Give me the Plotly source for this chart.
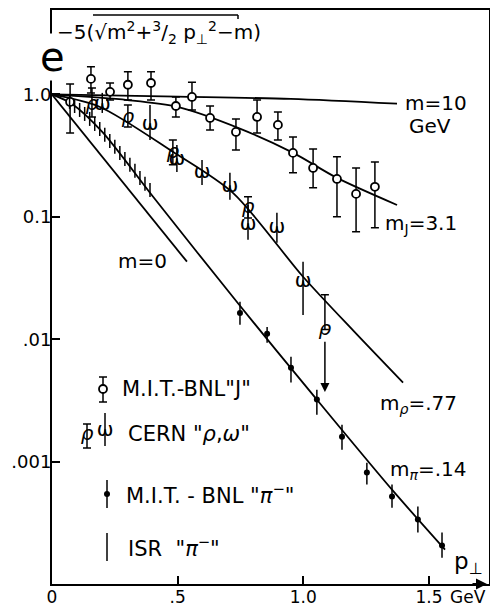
import math
import plotly.graph_objects as go

# ---------------- data ----------------
# M.I.T.-BNL "J"  (open circles)
j_p   = [0.072, 0.155, 0.231, 0.302, 0.394, 0.493, 0.557, 0.629, 0.732, 0.816, 0.899, 0.959, 1.039, 1.134, 1.210, 1.285]
j_val = [0.868, 1.34, 1.05, 1.20, 1.24, 0.805, 0.954, 0.643, 0.494, 0.655, 0.564, 0.333, 0.251, 0.204, 0.154, 0.176]
j_hi  = [1.22, 1.68, 1.24, 1.53, 1.53, 0.954, 1.26, 0.805, 0.631, 0.902, 0.720, 0.450, 0.359, 0.309, 0.251, 0.281]
j_lo  = [0.485, 1.03, 0.90, 0.90, 0.90, 0.655, 0.747, 0.513, 0.352, 0.485, 0.425, 0.229, 0.173, 0.100, 0.0755, 0.0813]

# CERN "rho"
rho_p   = [0.159, 0.302, 0.481, 0.780]
rho_val = [0.82, 0.643, 0.333, 0.118]
rho_hi  = [1.13, 0.82, 0.425, 0.146]
rho_lo  = [0.655, 0.543, 0.266, 0.098]
# CERN "rho" upper limit
rhoul_p     = [1.086]
rhoul_val   = [0.012]
rhoul_hi    = [0.0231]
rhoul_start = [0.0098]
rhoul_tip   = [0.0037]

# CERN "omega"
om_p   = [0.200, 0.390, 0.497, 0.597, 0.708, 0.780, 0.895, 0.999]
om_val = [0.82, 0.564, 0.292, 0.229, 0.176, 0.086, 0.0813, 0.0294]
om_hi  = [1.03, 0.82, 0.387, 0.292, 0.229, 0.125, 0.108, 0.043]
om_lo  = [0.706, 0.425, 0.233, 0.182, 0.138, 0.065, 0.0613, 0.0158]

# M.I.T.-BNL "pi-"
pi_p   = [0.748, 0.856, 0.951, 1.054, 1.154, 1.253, 1.353, 1.456, 1.552]
pi_val = [0.0164, 0.0111, 0.00585, 0.00321, 0.0016, 0.000813, 0.000518, 0.000336, 0.000206]
pi_hi  = [0.0202, 0.0126, 0.00719, 0.00387, 0.0020, 0.00098, 0.00065, 0.00043, 0.000263]
pi_lo  = [0.0131, 0.00936, 0.00442, 0.00242, 0.00125, 0.00065, 0.00042, 0.000263, 0.000164]

# ISR "pi-"
isr_p   = [0.07, 0.09, 0.11, 0.13, 0.15, 0.17, 0.19, 0.21, 0.23, 0.25, 0.27, 0.29, 0.31, 0.33, 0.35, 0.37, 0.39]
isr_val = [0.87, 0.805, 0.747, 0.693, 0.631, 0.574, 0.523, 0.468, 0.417, 0.373, 0.333, 0.297, 0.266, 0.238, 0.208, 0.186, 0.166]

# curves
m10_p  = [0, 0.5, 0.95, 1.373]
m10_v  = [1.0, 0.96, 0.92, 0.84]
mJ_p   = [0, 0.3, 0.5, 0.75, 0.96, 1.134, 1.373]
mJ_v   = [1.0, 0.90, 0.79, 0.523, 0.333, 0.208, 0.125]
mrho_p = [0, 0.191, 0.481, 0.72, 0.999, 1.2, 1.397]
mrho_v = [1.0, 0.79, 0.34, 0.157, 0.0324, 0.0117, 0.00442]
mpi_p  = [0, 0.08, 0.2, 0.4, 0.748, 1.054, 1.353, 1.564]
mpi_v  = [1.0, 0.836, 0.494, 0.148, 0.01875, 0.00321, 0.00059, 0.000191]
m0_p   = [0, 0.537]
m0_v   = [1.0, 0.043]

x_ticks = [0, 0.5, 1.0, 1.5]
x_ticktext = ["0", ".5", "1.0", "1.5"]
y_ticks = [1, 0.1, 0.01, 0.001]
y_ticktext = ["1.0", "0.1", ".01", ".001"]

# ---------------- layout geometry ----------------
W, H = 490, 608
ML, MR, MT, MB = 52, 1, 10, 24
PW, PH = W - ML - MR, H - MT - MB
XMAX = 1.739
YR = [-4.0, 0.69]
FONT = "DejaVu Sans"


def P(px, py):
    """pixel -> paper"""
    return (px - ML) / PW, (H - MB - py) / PH


def D(px, py):
    """pixel -> data (for legend keys)"""
    return (px - ML) / PW * XMAX, 10 ** (YR[1] - (py - MT) / PH * (YR[1] - YR[0]))


def err(val, hi, lo):
    return dict(type="data", symmetric=False,
                array=[h - v for h, v in zip(hi, val)],
                arrayminus=[v - l for v, l in zip(val, lo)],
                color="black", thickness=1.5)


fig = go.Figure()

for xs, ys in [(m10_p, m10_v), (mJ_p, mJ_v), (mrho_p, mrho_v), (mpi_p, mpi_v), (m0_p, m0_v)]:
    fig.add_trace(go.Scatter(x=xs, y=ys, mode="lines", line=dict(color="black", width=1.8, shape="spline", smoothing=0.8),
                             hoverinfo="skip"))

# J
e = err(j_val, j_hi, j_lo); e["width"] = 4
fig.add_trace(go.Scatter(x=j_p, y=j_val, mode="markers", error_y=e,
                         marker=dict(symbol="circle", size=8, color="white", line=dict(color="black", width=1.8))))
# rho
e = err(rho_val, rho_hi, rho_lo); e["width"] = 4
fig.add_trace(go.Scatter(x=rho_p, y=rho_val, mode="text", text=["ρ"] * len(rho_p), error_y=e,
                         textfont=dict(family=FONT, size=20, color="black", style="italic")))
e = err(rhoul_val, rhoul_hi, rhoul_val); e["width"] = 4
fig.add_trace(go.Scatter(x=rhoul_p, y=rhoul_val, mode="text", text=["ρ"] * len(rhoul_p), error_y=e,
                         textfont=dict(family=FONT, size=20, color="black", style="italic")))
# omega
e = err(om_val, om_hi, om_lo); e["width"] = 0
fig.add_trace(go.Scatter(x=om_p, y=om_val, mode="text", text=["ω"] * len(om_p), error_y=e,
                         textfont=dict(family=FONT, size=20, color="black")))
# pi
e = err(pi_val, pi_hi, pi_lo); e["width"] = 0
fig.add_trace(go.Scatter(x=pi_p, y=pi_val, mode="markers", error_y=e,
                         marker=dict(symbol="circle", size=6, color="black")))
# ISR
fig.add_trace(go.Scatter(x=isr_p, y=isr_val, mode="markers",
                         marker=dict(symbol="line-ns", size=10, color="black", line=dict(color="black", width=1.5))))

# ---------------- legend keys ----------------
kx, ky = D(103, 389); _, kh = D(103, 377); _, kl = D(103, 402)
fig.add_trace(go.Scatter(x=[kx], y=[ky], mode="markers",
                         error_y=dict(type="data", symmetric=False, array=[kh - ky], arrayminus=[ky - kl], width=4, color="black", thickness=1.5),
                         marker=dict(symbol="circle", size=8, color="white", line=dict(color="black", width=1.8))))
kx, ky = D(87, 435); _, kh = D(87, 424); _, kl = D(87, 448)
fig.add_trace(go.Scatter(x=[kx], y=[ky], mode="text", text=["ρ"],
                         error_y=dict(type="data", symmetric=False, array=[kh - ky], arrayminus=[ky - kl], width=4, color="black", thickness=1.5),
                         textfont=dict(family=FONT, size=20, color="black", style="italic")))
kx, ky = D(105, 431); _, kh = D(105, 413); _, kl = D(105, 446)
fig.add_trace(go.Scatter(x=[kx], y=[ky], mode="text", text=["ω"],
                         error_y=dict(type="data", symmetric=False, array=[kh - ky], arrayminus=[ky - kl], width=0, color="black", thickness=1.5),
                         textfont=dict(family=FONT, size=20, color="black")))
kx, ky = D(107, 494); _, kh = D(107, 480); _, kl = D(107, 508)
fig.add_trace(go.Scatter(x=[kx], y=[ky], mode="markers",
                         error_y=dict(type="data", symmetric=False, array=[kh - ky], arrayminus=[ky - kl], width=0, color="black", thickness=1.5),
                         marker=dict(symbol="circle", size=6, color="black")))
kx, ky = D(107, 547)
fig.add_trace(go.Scatter(x=[kx], y=[ky], mode="markers",
                         marker=dict(symbol="line-ns", size=20, color="black", line=dict(color="black", width=1.5))))

ann = []


def text(px, py, s, size=20, anchor="left", **kw):
    x, y = P(px, py)
    d = dict(xref="paper", yref="paper", x=x, y=y, text=s, showarrow=False, xanchor=anchor, yanchor="middle",
             font=dict(family=FONT, size=size, color="black"))
    d.update(kw)
    ann.append(d)


text(403, 103, "m=10")
text(407, 126, "GeV")
text(383, 224, "m<sub>J</sub>=3.1")
text(116, 261, "m=0")
text(378, 404, "m<sub><i>ρ</i></sub>=.77")
text(388, 470, "m<sub><i>π</i></sub>=.14")
text(452, 563, "p<sub>⊥</sub>", size=23)
text(120, 389, "M.I.T.-BNL\"J\"", size=21)
text(126, 434, "CERN \"<i>ρ</i>,<i>ω</i>\"", size=21)
text(124, 494, "M.I.T. - BNL \"<i>π</i><sup>−</sup>\"", size=21)
text(126, 547, "ISR  \"<i>π</i><sup>−</sup>\"", size=21)
text(448, 597, "GeV", size=17)
# formula label
text(52, 57, "e", size=40, anchor="center", bgcolor="white", borderpad=0)
text(55, 32, "−5(√m<sup>2</sup>+<sup>3</sup>/<sub>2</sub> p<sub>⊥</sub><sup>2</sup>−m)", size=20)

# upper-limit arrow
for xp, s, t in zip(rhoul_p, rhoul_start, rhoul_tip):
    ann.append(dict(xref="x", yref="y", axref="x", ayref="y", x=xp, y=math.log10(t), ax=xp, ay=math.log10(s),
                    showarrow=True, arrowhead=2, arrowsize=1.2, arrowwidth=1.5, arrowcolor="black", text=""))

# x-axis arrow
ax0, _ = P(487, 0)
ann.append(dict(xref="paper", yref="paper", x=ax0, y=0, ax=-16, ay=0, showarrow=True, arrowhead=2,
                arrowsize=1.1, arrowwidth=2, arrowcolor="black", text=""))

shapes = []
x1, y1 = P(93, 15); x2, y2 = P(238, 15); _, y3 = P(238, 19)
shapes.append(dict(type="line", xref="paper", yref="paper", x0=x1, y0=y1, x1=x2, y1=y2, line=dict(color="black", width=1.5)))
shapes.append(dict(type="line", xref="paper", yref="paper", x0=x2, y0=y2, x1=x2, y1=y3, line=dict(color="black", width=1.5)))

fig.update_layout(width=W, height=H, margin=dict(l=ML, r=MR, t=MT, b=MB, autoexpand=False), plot_bgcolor="white",
                  paper_bgcolor="white", showlegend=False, annotations=ann, shapes=shapes,
                  font=dict(family=FONT, color="black", size=17))
fig.update_xaxes(range=[0, XMAX], showline=True, linecolor="black", linewidth=2, mirror=True,
                 ticks="inside", ticklen=8, tickwidth=1.5, tickcolor="black", automargin=False,
                 tickvals=x_ticks, ticktext=x_ticktext, showgrid=False, zeroline=False, ticklabelstandoff=-3,
                 tickfont=dict(family=FONT, size=17, color="black"))
fig.update_yaxes(type="log", range=YR, showline=True, linecolor="black", linewidth=2, mirror=True,
                 ticks="inside", ticklen=8, tickwidth=1.5, tickcolor="black", automargin=False,
                 tickvals=y_ticks, ticktext=y_ticktext, showgrid=False, zeroline=False, ticklabelstandoff=-5,
                 tickfont=dict(family=FONT, size=18, color="black"))

fig.write_html("out.html", config={"displayModeBar": False},
               post_script="document.body.style.margin='0';document.body.style.overflow='hidden';")
